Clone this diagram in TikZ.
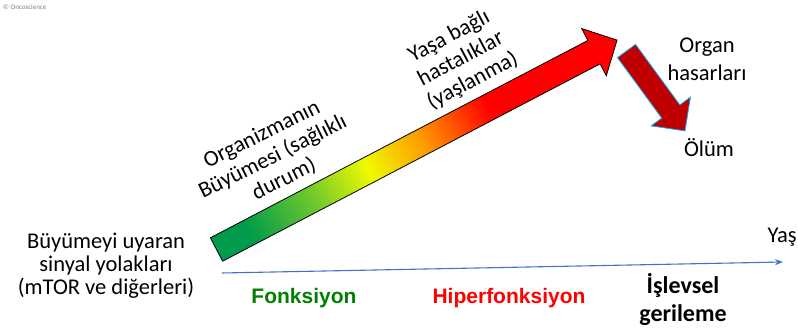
\documentclass[tikz,border=0pt]{standalone}
\usepackage{fontspec}
\setmainfont{Carlito}
\newfontfamily\phasefont{Liberation Sans}
\usetikzlibrary{arrows.meta}
\definecolor{agedkgreen}{RGB}{0,155,75}
\definecolor{agelgreen}{RGB}{110,200,45}
\definecolor{ageyellow}{RGB}{240,250,0}
\definecolor{ageorange}{RGB}{255,150,0}
\definecolor{agered}{RGB}{255,0,0}
\definecolor{deathred}{RGB}{192,0,0}
\definecolor{deathedge}{RGB}{0,176,240}
\definecolor{axisblue}{RGB}{68,114,196}
\definecolor{fonkgreen}{RGB}{0,128,0}
\pgfdeclarehorizontalshading{agegrad}{100bp}{color(0bp)=(agedkgreen); color(29bp)=(agedkgreen);
  color(37bp)=(agelgreen); color(44bp)=(ageyellow); color(51bp)=(ageorange);
  color(59bp)=(agered); color(100bp)=(agered)}
\begin{document}
\begin{tikzpicture}[x=1pt,y=-1pt,
  lbl/.style={font=\fontsize{22.5}{23}\selectfont,align=center},
  phase/.style={font=\phasefont\fontsize{21}{26}\selectfont\bfseries,align=center}]
\useasboundingbox (0,0) rectangle (798,328);
\node[anchor=west,text=gray,font=\fontsize{7}{8}\selectfont,inner sep=0pt] (copy) at (3,7) {© Oncoscience};

% growth arrow
\begin{scope}[transform canvas={shift={(216.5,249.5)},rotate=27.6}]
\draw[shading=agegrad,draw=black,line width=0.8pt,line join=miter]
  (0,-13.2) -- (426,-13.2) -- (426,-26.6) -- (452,0) -- (426,26.6) -- (426,13.2) -- (0,13.2) -- cycle;
\end{scope}

% death arrow
\begin{scope}[transform canvas={shift={(626.5,51)},rotate=-53.8}]
\draw[fill=deathred,draw=deathedge,line width=0.8pt]
  (0,-11.2) -- (75,-11.2) -- (75,-24.3) -- (99,0) -- (75,24.3) -- (75,11.2) -- (0,11.2) -- cycle;
\end{scope}

\node[lbl,font=\fontsize{22.5}{25}\selectfont,rotate=26.5] (growth) at (273,157) {Organizmanın\\Büyümesi (sağlıklı\\durum)};
\node[lbl,font=\fontsize{22.5}{25}\selectfont,rotate=28] (disease) at (461,59) {Yaşa bağlı\\hastalıklar\\(yaşlanma)};
\node[lbl,font=\fontsize{22.5}{28}\selectfont] (organ) at (707,59) {Organ\\hasarları};
\node[lbl] (death) at (709,148) {Ölüm};
\node[lbl] (signal) at (106,266) {Büyümeyi uyaran\\sinyal yolakları\\(mTOR ve diğerleri)};
\node[lbl,anchor=west] (age) at (764,237) {Yaş};

\coordinate (axstart) at (222,273);
\coordinate (axend) at (783,262);
\draw[axisblue,line width=1.1pt,-{Stealth[length=8pt,width=6pt]}] (axstart) -- (axend);

\node[phase,text=fonkgreen] (fonk) at (304,298) {Fonksiyon};
\node[phase,text=agered] (hiper) at (509,298) {Hiperfonksiyon};
\node[lbl,font=\fontsize{24}{28}\selectfont\bfseries] (decline) at (683,299) {İşlevsel\\gerileme};
\end{tikzpicture}
\end{document}
